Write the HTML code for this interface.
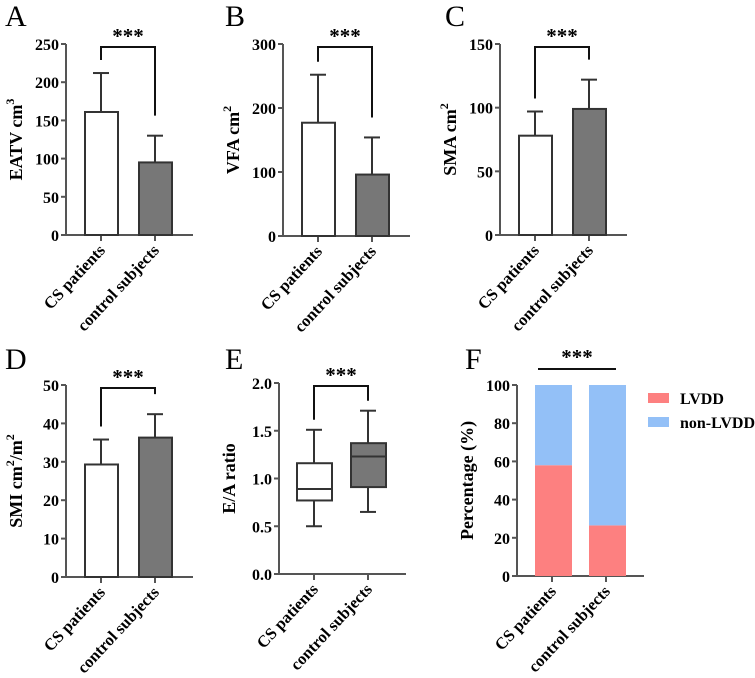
<!DOCTYPE html>
<html><head><meta charset="utf-8"><style>
body{margin:0;background:#fff}
svg{display:block;font-family:"Liberation Serif",serif}
</style></head><body>
<svg id="fig" width="755" height="678"></svg>
<script>
// data
const categories = ["CS patients","control subjects"];
const eatvMean = [161, 95], eatvErr = [212, 130];
const vfaMean = [177, 96], vfaErr = [252, 154];
const smaMean = [78, 99], smaErr = [97, 122];
const smiMean = [29.3, 36.3], smiErr = [35.8, 42.4];
const eaMin = [0.5, 0.65], eaQ1 = [0.77, 0.91], eaMed = [0.89, 1.23], eaQ3 = [1.16, 1.37], eaMax = [1.51, 1.71];
const lvdd = [58, 26.5];
const nonLvdd = [42, 73.5];
const ticksA = [0,50,100,150,200,250], ticksB = [0,100,200,300], ticksC = [0,50,100,150];
const ticksD = [0,10,20,30,40,50], ticksE = ["0.0","0.5","1.0","1.5","2.0"], ticksF = [0,20,40,60,80,100];

const NS = "http://www.w3.org/2000/svg";
const svg = document.getElementById('fig');
function el(tag, attrs, parent, text){
  const e = document.createElementNS(NS, tag);
  for (const k in attrs) e.setAttribute(k, attrs[k]);
  if (text !== undefined) e.textContent = text;
  (parent || svg).appendChild(e);
  return e;
}
const AX = "#555";
function panel(letter, lx, ly, ax, top, zero, max, ticks, title, name){
  const g = el('g', {});
  
  
  const t = el('text', {x: lx, y: ly, 'font-size': 30}, g, letter);
  
  
  const y = v => zero - v / max * (zero - top);
  const x0 = ax + 35, x1 = ax + 89;
  const xs = [x0, x1];
  el('line', {x1: ax, y1: top, x2: ax, y2: zero, stroke: AX, 'stroke-width': 2}, g);
  el('line', {x1: ax, y1: zero, x2: ax + 127, y2: zero, stroke: AX, 'stroke-width': 2}, g);
  ticks.forEach(tk => {
    const v = parseFloat(tk);
    el('line', {x1: ax - 5, y1: y(v), x2: ax, y2: y(v), stroke: AX, 'stroke-width': 2}, g);
    const lb = el('text', {x: ax - 7, y: y(v) + 6, 'font-size': 16, 'font-weight': 'bold', 'text-anchor': 'end'}, g, tk);
    
    
  });
  categories.forEach((c, i) => {
    el('line', {x1: xs[i], y1: zero, x2: xs[i], y2: zero + 6, stroke: AX, 'stroke-width': 2}, g);
    const lb = el('text', {x: xs[i] + 5, y: zero + 16, 'font-size': 16.5, 'font-weight': 'bold', 'text-anchor': 'end', transform: `rotate(-47 ${xs[i] + 5} ${zero + 16})`}, g, c);
    
    
  });
  const yt = el('text', {x: 0, y: 0, 'font-size': 18, 'font-weight': 'bold', 'text-anchor': 'middle', transform: `translate(${ax - 44} ${(top + zero) / 2}) rotate(-90)`}, g);
  yt.innerHTML = title;
  
  
  return {g, y, xs, top, zero};
}
function bracket(p, legL, legR){
  el('path', {d: `M${p.xs[0]} ${legL} V${p.top + 3} H${p.xs[1]} V${legR}`, fill: 'none', stroke: '#111', 'stroke-width': 2}, p.g);
  const s = el('text', {x: (p.xs[0] + p.xs[1]) / 2, y: p.top - 1, 'font-size': 21, 'font-weight': 'bold', 'text-anchor': 'middle'}, p.g, '***');
  
  
}
function barPanel(p, mean, err, name){
  const fills = ['#fff', '#777'];
  mean.forEach((m, i) => {
    el('line', {x1: p.xs[i], y1: p.y(m), x2: p.xs[i], y2: p.y(err[i]), stroke: '#333', 'stroke-width': 2}, p.g);
    el('line', {x1: p.xs[i] - 8, y1: p.y(err[i]), x2: p.xs[i] + 8, y2: p.y(err[i]), stroke: '#333', 'stroke-width': 2}, p.g);
    const b = el('rect', {x: p.xs[i] - 16, y: p.y(m), width: 33, height: p.zero - p.y(m), fill: fills[i], stroke: '#333', 'stroke-width': 2}, p.g);
    
    
  });
  bracket(p, p.y(err[0]) - 13, p.y(err[1]) - 20);
}
// A
let p = panel('A', 5, 26, 66, 44, 235, 250, ticksA, 'EATV cm<tspan dy="-8" font-size="12">3</tspan>', 'eatv');
barPanel(p, eatvMean, eatvErr, 'eatv');
// B
p = panel('B', 225, 26, 283, 44, 236, 300, ticksB, 'VFA cm<tspan dy="-8" font-size="12">2</tspan>', 'vfa');
barPanel(p, vfaMean, vfaErr, 'vfa');
// C
p = panel('C', 445, 26, 500, 44, 235, 150, ticksC, 'SMA cm<tspan dy="-8" font-size="12">2</tspan>', 'sma');
barPanel(p, smaMean, smaErr, 'sma');
// D
p = panel('D', 5, 369, 66, 385, 577, 50, ticksD, 'SMI cm<tspan dy="-8" font-size="12">2</tspan><tspan dy="8">/m</tspan><tspan dy="-8" font-size="12">2</tspan>', 'smi');
barPanel(p, smiMean, smiErr, 'smi');
// E
p = panel('E', 225, 369, 279, 383, 574, 2, ticksE, 'E/A ratio', 'ea');
{
  const fills = ['#fff', '#777'];
  categories.forEach((c, i) => {
    const x = p.xs[i];
    el('line', {x1: x, y1: p.y(eaMin[i]), x2: x, y2: p.y(eaMax[i]), stroke: '#333', 'stroke-width': 2}, p.g);
    el('line', {x1: x - 8, y1: p.y(eaMin[i]), x2: x + 8, y2: p.y(eaMin[i]), stroke: '#333', 'stroke-width': 2}, p.g);
    el('line', {x1: x - 8, y1: p.y(eaMax[i]), x2: x + 8, y2: p.y(eaMax[i]), stroke: '#333', 'stroke-width': 2}, p.g);
    const b = el('rect', {x: x - 17, y: p.y(eaQ3[i]), width: 35, height: p.y(eaQ1[i]) - p.y(eaQ3[i]), fill: fills[i], stroke: '#333', 'stroke-width': 2}, p.g);
    
    
    el('line', {x1: x - 17, y1: p.y(eaMed[i]), x2: x + 18, y2: p.y(eaMed[i]), stroke: '#333', 'stroke-width': 2}, p.g);
  });
  bracket(p, p.y(eaMax[0]) - 10, p.y(eaMax[1]) - 10);
}
// F
p = panel('F', 465, 369, 517, 385, 576, 100, ticksF, 'Percentage (%)', 'lvdd');
{
  categories.forEach((c, i) => {
    const x = p.xs[i] + 1;
    const r1 = el('rect', {x: x - 18, y: p.y(lvdd[i]), width: 37, height: p.zero - p.y(lvdd[i]), fill: '#fd8080'}, p.g);
    
    
    const r2 = el('rect', {x: x - 18, y: p.y(lvdd[i] + nonLvdd[i]), width: 37, height: p.y(lvdd[i]) - p.y(lvdd[i] + nonLvdd[i]), fill: '#93c0f7'}, p.g);
    
    
  });
  el('line', {x1: 538, y1: 369, x2: 616, y2: 369, stroke: '#111', 'stroke-width': 2}, p.g);
  const s = el('text', {x: 577, y: 364, 'font-size': 21, 'font-weight': 'bold', 'text-anchor': 'middle'}, p.g, '***');
  
  
  [['LVDD', '#fd8080', 398], ['non-LVDD', '#93c0f7', 422]].forEach(([t, c, yy]) => {
    const lg = el('g', {}, p.g);
    
    
    el('rect', {x: 648, y: yy - 5, width: 21, height: 10, fill: c}, lg);
    el('text', {x: 680, y: yy + 6, 'font-size': 16, 'font-weight': 'bold'}, lg, t);
  });
}
</script>
</body></html>
